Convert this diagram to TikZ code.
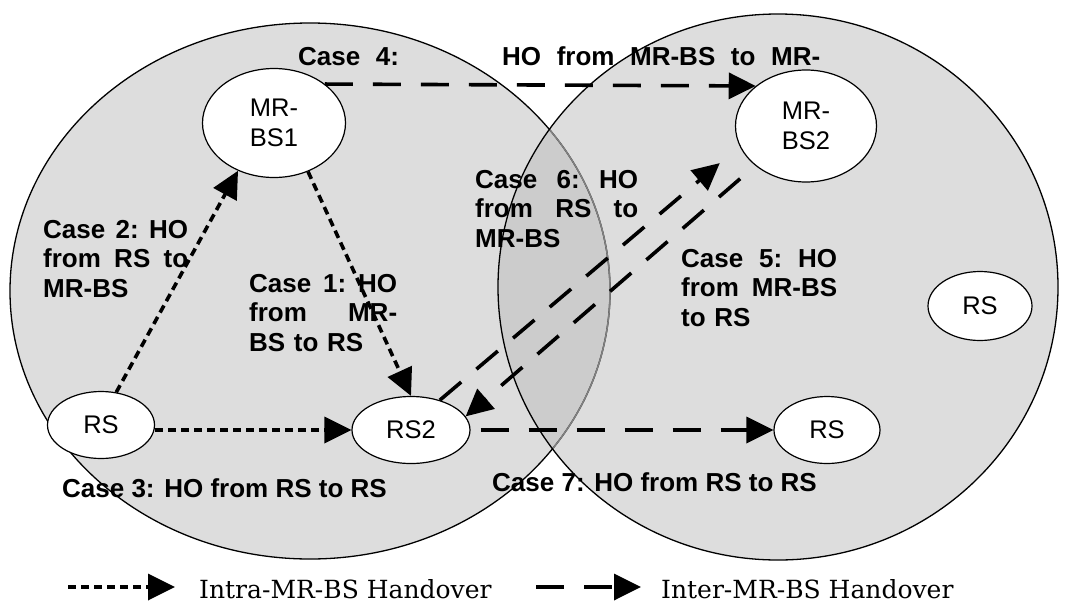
\documentclass[tikz,border=0pt]{standalone}
\usepackage{fontspec}
\newfontfamily\arialfont{Liberation Sans}
\newfontfamily\legendfont{DejaVu Serif}
\usetikzlibrary{shapes.geometric,arrows.meta}
\definecolor{cellgray}{HTML}{DDDDDD}
\definecolor{overlapgray}{HTML}{CCCCCC}

\begin{document}
\begin{tikzpicture}[x=1pt,y=-1pt,>={Triangle[length=27pt,width=26pt]},
    main node/.style={ellipse,draw,fill=white,line width=1.2pt,inner sep=0pt,align=center,font=\arialfont\fontsize{25.5}{30}\selectfont},
    case node/.style={anchor=north west,inner sep=0pt,align=left,font=\arialfont\bfseries\fontsize{26}{29.5}\selectfont},
    legend node/.style={anchor=base west,inner sep=0pt,font=\legendfont\fontsize{25}{30}\selectfont},
    intra/.style={->,line width=3.6pt,dash pattern=on 8pt off 5pt},
    inter/.style={->,line width=3.6pt,dash pattern=on 28pt off 20pt}]
    \useasboundingbox (0,0) rectangle (1066,603);

    % the two cells
    \fill[cellgray] (310,291) ellipse [x radius=300, y radius=268];
    \fill[cellgray] (778,287) ellipse [x radius=280, y radius=273];
    \begin{scope}
        \clip (310,291) ellipse [x radius=300, y radius=268];
        \fill[overlapgray] (778,287) ellipse [x radius=280, y radius=273];
    \end{scope}
    \draw[line width=1.3pt] (310,291) ellipse [x radius=300, y radius=268];
    \begin{scope}
        \clip (778,287) ellipse [x radius=280, y radius=273];
        \draw[line width=1.5pt,gray] (310,291) ellipse [x radius=300, y radius=268];
    \end{scope}
    \draw[line width=1.3pt] (778,287) ellipse [x radius=280, y radius=273];

    \node[main node,minimum width=143pt,minimum height=109pt] (1) at (274,123) {MR-\\BS1};
    \node[main node,minimum width=141pt,minimum height=112pt] (2) at (806,126) {MR-\\BS2};
    \node[main node,minimum width=107pt,minimum height=67pt] (3) at (101,425) {RS};
    \node[main node,minimum width=118pt,minimum height=67pt] (4) at (411,430) {RS2};
    \node[main node,minimum width=106pt,minimum height=67pt] (5) at (827,430) {RS};
    \node[main node,minimum width=104pt,minimum height=69pt] (6) at (980,306) {RS};

    \node[case node,text width=148pt] (c1) at (249,274) {Case\hfill 1:\hfill HO\\from\hfill MR-\\BS to RS};
    \node[case node,text width=145pt] (c2) at (43,220) {Case\hfill 2:\hfill HO\\from\hfill RS\hfill to\\MR-BS};
    \node[case node] (c3) at (62,478) {Case 3: HO from RS to RS};
    \node[case node,text width=522pt] (c4) at (298,46) {\spaceskip=.6em Case 4:\hfill HO from MR-BS to MR-};
    \node[case node,text width=156pt] (c5) at (681,249) {Case\hfill 5:\hfill HO\\from\hfill MR-BS\\to RS};
    \node[case node,text width=163pt] (c6) at (475,170) {Case\hfill 6:\hfill HO\\from\hfill RS\hfill to\\MR-BS};
    \node[case node] (c7) at (492,472) {Case 7: HO from RS to RS};

    \path
        (1.-55) edge[intra] (4.north)
        (3.65) edge[intra] (1.-127)
        (3.east |- 4.west) edge[intra] (4.west)
        (1.north east) edge[inter] (2.north west)
        (2.-142) edge[inter,shorten <=20pt] (4.14)
        (4.46) edge[inter,shorten >=26pt] (2.-163)
        (4.east) edge[inter,shorten <=10pt] (5.west);

    % legend
    \coordinate (a1) at (68,587);
    \coordinate (a2) at (175,587);
    \coordinate (b1) at (536,587);
    \coordinate (b2) at (641,587);
    \node[legend node] (l1) at (199,598) {Intra-MR-BS Handover};
    \node[legend node] (l2) at (661,598) {Inter-MR-BS Handover};
    \path
        (a1) edge[intra] (a2)
        (b1) edge[inter] (b2);
\end{tikzpicture}
\end{document}
